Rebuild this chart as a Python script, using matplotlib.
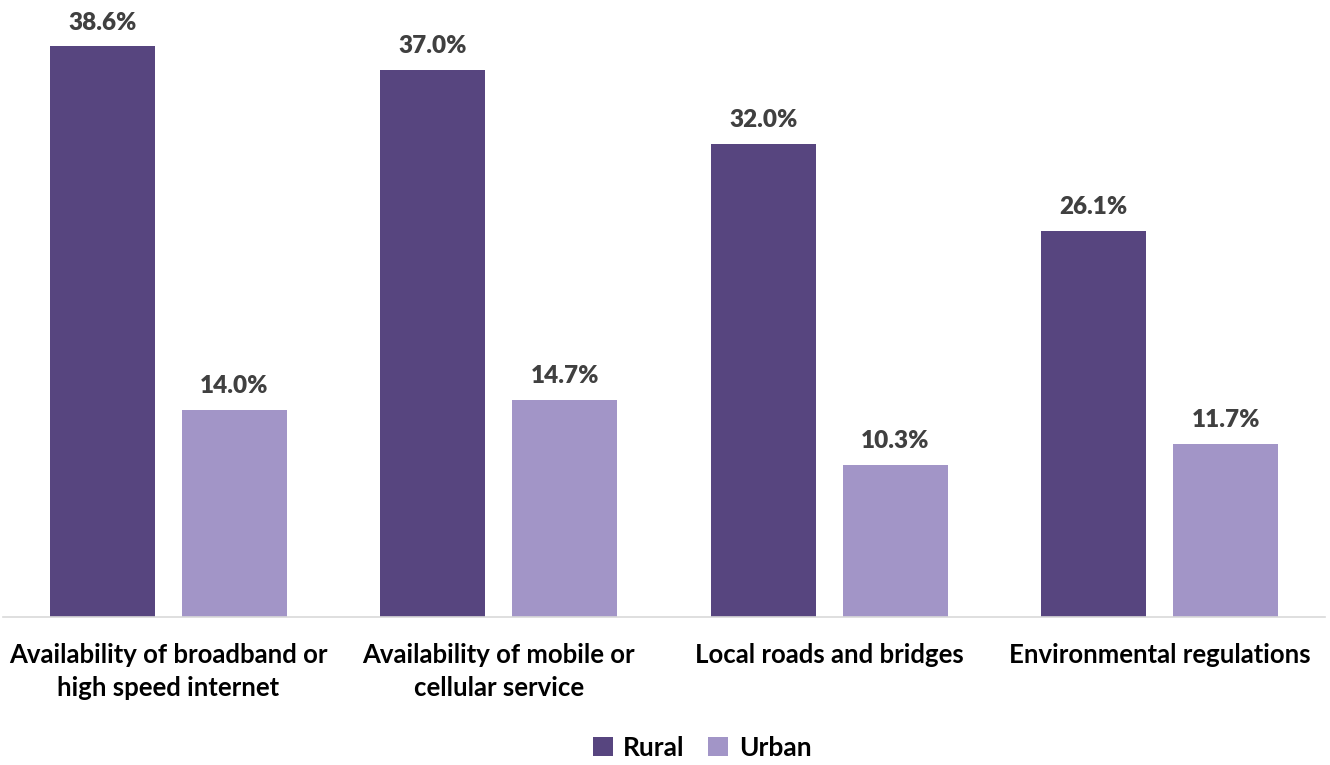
import matplotlib
matplotlib.use("Agg")
import matplotlib.pyplot as plt
import numpy as np

categories = [
    "Availability of broadband or\nhigh speed internet",
    "Availability of mobile or\ncellular service",
    "Local roads and bridges",
    "Environmental regulations",
]
rural = [38.6, 37.0, 32.0, 26.1]
urban = [14.0, 14.7, 10.3, 11.7]
series_names = ["Rural", "Urban"]

RURAL_COLOR = "#57457F"
URBAN_COLOR = "#A295C7"
TEXT_COLOR = "#404040"

plt.rcParams["font.family"] = ["Lato", "DejaVu Sans"]
plt.rcParams["font.weight"] = "bold"

fig = plt.figure(figsize=(13.3, 7.65), dpi=100)
W, H = 1330, 765
x_left, x_right = 3, 1325
y_base = 617
ax = fig.add_axes([x_left / W, (H - y_base) / H, (x_right - x_left) / W, y_base / H])

x = np.arange(len(categories))
width = 0.318
offset = 0.2
b1 = ax.bar(x - offset, rural, width, color=RURAL_COLOR, label=series_names[0])
b2 = ax.bar(x + offset, urban, width, color=URBAN_COLOR, label=series_names[1])

for bars, vals in ((b1, rural), (b2, urban)):
    for bar, v in zip(bars, vals):
        ax.annotate(f"{v:.1f}%", (bar.get_x() + bar.get_width() / 2, v),
                    xytext=(0, 9), textcoords="offset points",
                    ha="center", va="bottom", fontsize=17.5,
                    fontweight="heavy", color=TEXT_COLOR)

ax.set_xlim(-0.5, len(categories) - 0.5)
ax.set_ylim(0, y_base / 14.79)
ax.set_xticks(x)
ax.set_xticklabels(categories, fontsize=18.5, fontweight="bold", color="black",
                   linespacing=1.45)
ax.tick_params(axis="x", length=0, pad=19)
ax.set_yticks([])
for s in ("top", "right", "left"):
    ax.spines[s].set_visible(False)
ax.spines["bottom"].set_color("#D9D9D9")
ax.spines["bottom"].set_linewidth(1.2)

fig.legend(handles=[b1, b2], labels=series_names, loc="center",
           bbox_to_anchor=(702 / W, 1 - 748 / H), ncol=2, frameon=False,
           handlelength=0.75, handleheight=0.75,
           handletextpad=0.4, columnspacing=0.9,
           prop={"weight": "bold", "size": 19})

fig.savefig("out.png", dpi=100)
